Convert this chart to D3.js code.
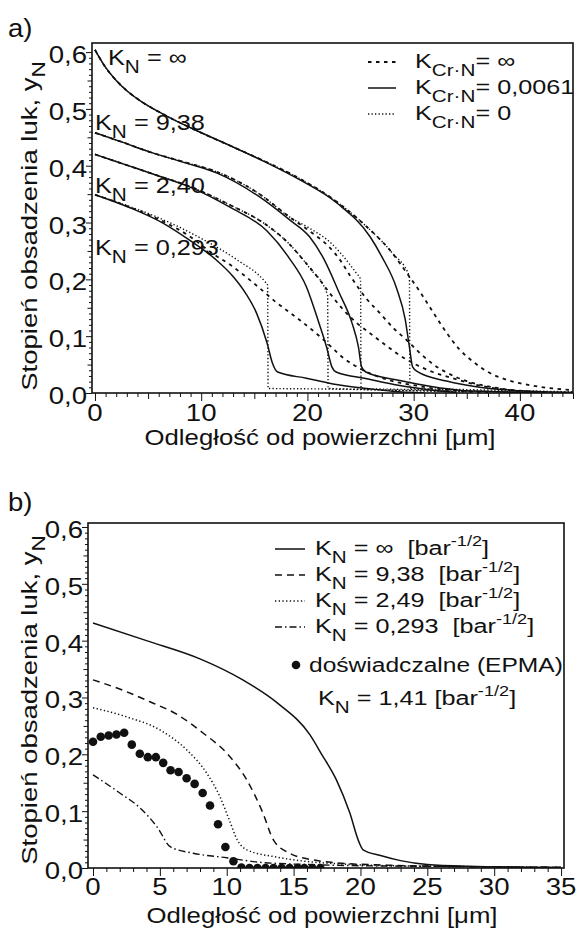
<!DOCTYPE html>
<html><head><meta charset="utf-8">
<script src="https://cdn.jsdelivr.net/npm/d3@7"></script>
<style>
body{margin:0;background:#fff}
text{font-family:"Liberation Sans",Arial,sans-serif;fill:#111;white-space:pre}
</style></head>
<body><svg id="c" width="579" height="933"></svg>
<script>
// ---------- DATA: panel a ----------
const aKnLabels = ["∞", "9,38", "2,40", "0,293"];
const aLegendLabels = ["∞", "0,0061", "0"];
const aXTickLabels = ["0", "10", "20", "30", "40"];
const yTickLabels = ["0,0", "0,1", "0,2", "0,3", "0,4", "0,5", "0,6"];
const bXTickLabels = ["0", "5", "10", "15", "20", "25", "30", "35"];

const aSolidInf = [[0,0.604],[1,0.573],[2,0.550],[3,0.532],[4.2,0.515],[6.8,0.487],[9.2,0.465],[13.0,0.433],[16.2,0.405],[19.3,0.375],[22.8,0.334],[25.9,0.275],[27.0,0.240],[28.4,0.184],[29.2,0.130],[29.6,0.081],[29.9,0.046],[30.4,0.037],[33.1,0.021],[36.2,0.010],[40,0.004],[45,0.001]];
const aDashInf = [[0,0.604],[1,0.573],[2,0.550],[3,0.532],[4.2,0.515],[6.8,0.487],[9.2,0.465],[13.0,0.433],[16.2,0.406],[19.3,0.377],[22.8,0.336],[25.2,0.299],[28.0,0.246],[29.4,0.21],[30.6,0.178],[31.8,0.143],[33.1,0.106],[34.3,0.077],[35.6,0.055],[36.9,0.038],[38.8,0.023],[40.9,0.014],[43.1,0.008],[45,0.005]];
const aDotInf = [[0,0.604],[1,0.573],[2,0.550],[3,0.532],[4.2,0.515],[6.8,0.487],[9.2,0.465],[13.0,0.433],[16.2,0.406],[19.3,0.377],[22.8,0.336],[25.2,0.299],[28.0,0.246],[29.6,0.205],[29.65,0.008],[35,0.006],[40,0.004],[45,0.002]];

const aSolid938 = [[0,0.458],[2.5,0.442],[5.2,0.424],[8.5,0.405],[11.5,0.387],[15.5,0.345],[18.3,0.305],[20.2,0.275],[21.6,0.234],[23.0,0.176],[24.2,0.123],[24.8,0.081],[25.1,0.046],[25.5,0.037],[28.7,0.022],[31.8,0.011],[34.3,0.005],[38,0.002],[42,0]];
const aDash938 = [[0,0.458],[2.5,0.442],[5.2,0.424],[8.5,0.406],[11.5,0.389],[15.5,0.35],[18.3,0.31],[20.2,0.285],[22.1,0.256],[23.0,0.236],[24.0,0.207],[25.6,0.165],[26.8,0.141],[28.0,0.116],[29.4,0.092],[30.6,0.07],[31.8,0.051],[33.1,0.036],[35,0.021],[37.5,0.01],[40,0.004],[43,0.001]];
const aDot938 = [[0,0.458],[2.5,0.442],[5.2,0.424],[8.5,0.406],[11.5,0.389],[15.5,0.35],[18.3,0.31],[20.2,0.29],[22.1,0.266],[24.0,0.226],[24.6,0.211],[25.0,0.2],[25.05,0.008],[30,0.006],[35,0.004],[40,0.002]];

const aSolid240 = [[0,0.420],[3,0.401],[6,0.382],[9,0.362],[12.7,0.327],[16.2,0.285],[18.3,0.237],[19.9,0.187],[21.0,0.128],[21.8,0.081],[22.3,0.046],[22.7,0.037],[25.6,0.025],[28.7,0.013],[31.8,0.005],[34,0.001]];
const aDash240 = [[0,0.420],[3,0.401],[6,0.382],[9,0.363],[12.7,0.331],[16.2,0.295],[18.3,0.262],[19.3,0.241],[21.0,0.203],[22.3,0.171],[23.3,0.148],[24.6,0.124],[25.9,0.105],[27.1,0.088],[28.4,0.070],[29.9,0.053],[31.8,0.037],[33.7,0.026],[36,0.014],[39,0.005],[42,0.001]];
const aDot240 = [[0,0.420],[3,0.401],[6,0.382],[9,0.363],[12.7,0.331],[16.2,0.295],[18.3,0.262],[20.2,0.22],[21.9,0.172],[21.95,0.008],[26,0.006],[30,0.004],[35,0.002]];

const aSolid0293 = [[0,0.349],[3.3,0.326],[6.4,0.299],[8.9,0.269],[11.3,0.236],[13.0,0.205],[14.2,0.175],[15.2,0.141],[16.2,0.088],[16.7,0.053],[17.2,0.037],[19.9,0.026],[22.4,0.016],[25.6,0.008],[28,0.003],[31,0]];
const aDash0293 = [[0,0.349],[3.3,0.327],[6.4,0.302],[8.9,0.276],[11.1,0.245],[12.7,0.226],[14.9,0.194],[17.1,0.159],[19.3,0.128],[21.2,0.099],[22.3,0.08],[23.3,0.063],[24.3,0.05],[25.6,0.037],[26.8,0.028],[28.4,0.019],[29.9,0.014],[31.5,0.009],[34,0.004],[37,0.001]];
const aDot0293 = [[0,0.349],[3.3,0.328],[5.8,0.31],[9.9,0.273],[13.4,0.234],[16.0,0.196],[16.25,0.19],[16.3,0.008],[22,0.007],[28,0.005],[35,0.003],[45,0.001]];

// ---------- DATA: panel b ----------
const bLegendKn = ["∞", "9,38", "2,49", "0,293"];
const bSolid = [[0,0.431],[4,0.400],[8,0.368],[11.2,0.331],[13.8,0.290],[16.2,0.235],[17.1,0.200],[18.2,0.155],[19.2,0.097],[19.9,0.045],[20.2,0.032],[21.5,0.022],[23,0.013],[25,0.006],[28,0.003],[35,0.001]];
const bDash = [[0,0.331],[2.2,0.313],[4.3,0.292],[6.3,0.270],[8.2,0.238],[10.0,0.202],[11.5,0.155],[12.7,0.097],[13.5,0.049],[14.7,0.026],[16.5,0.014],[18.2,0.009],[22,0.005],[26,0.003],[30,0.002],[35,0.001]];
const bDot = [[0,0.282],[2.5,0.266],[5.0,0.243],[7.0,0.208],[8.5,0.167],[9.5,0.125],[10.2,0.084],[10.8,0.049],[11.5,0.032],[13.8,0.019],[16.2,0.011],[18.7,0.007],[22,0.004],[26,0.003],[30,0.002],[35,0.001]];
const bDashDot = [[0,0.164],[2.0,0.132],[3.5,0.106],[4.8,0.072],[5.8,0.037],[7.5,0.026],[10.0,0.018],[12.5,0.010],[15,0.007],[20,0.004],[25,0.003],[30,0.002],[35,0.001]];
const epmaX = [0,0.58,1.17,1.75,2.33,2.9,3.5,4.1,4.7,5.25,5.8,6.4,7.0,7.6,8.2,8.75,9.35,9.9,10.5,11.1,11.7,12.3,12.9,13.5,14.1,14.7,15.3,15.8,16.4,17.0];
const epmaY = [0.222,0.231,0.233,0.235,0.238,0.217,0.201,0.195,0.195,0.185,0.172,0.169,0.158,0.148,0.132,0.110,0.077,0.037,0.012,0.001,0,0,0,0,0,0,0,0,0,0];

// ---------- rendering ----------
const SX = 1.2;
const svg = d3.select("#c");
svg.append("rect").attr("width",579).attr("height",933).attr("fill","#fff");

function rich(g, x, y, parts, o = {}) {
  const fs = o.fs || 21;
  const t = g.append("text")
    .attr("transform", `translate(${x},${y})${o.rot ? ` rotate(${o.rot})` : ""} scale(${o.sx || SX},1)`)
    .attr("font-size", fs).attr("text-anchor", o.anchor || "start");
  let cur = 0;
  parts.forEach(p => {
    const [txt, kind] = Array.isArray(p) ? p : [p, null];
    const off = kind === "sub" ? fs * 0.36 : kind === "sup" ? -fs * 0.42 : 0;
    const ts = t.append("tspan").text(txt);
    if (off - cur !== 0) ts.attr("dy", off - cur);
    if (kind) ts.attr("font-size", fs * (kind === "sub" ? 0.82 : 0.72));
    cur = off;
  });
  return t;
}

const styles = {
  solid: {dash: null, w: 1.5},
  dashA: {dash: "3.5,4.5", w: 1.8},
  dotA: {dash: "1.3,2.2", w: 1.4},
  dashB: {dash: "7,5", w: 1.5},
  dotB: {dash: "1.3,2.4", w: 1.5},
  dashdotB: {dash: "7,3,1.5,3", w: 1.4}
};

function panel(cfg) {
  const g = svg.append("g");
  const {x, y, box} = cfg;
  const clipId = "clip" + cfg.id;
  svg.append("clipPath").attr("id", clipId).append("rect")
    .attr("x", box.l).attr("y", box.t).attr("width", box.r - box.l).attr("height", box.b - box.t);
  const plot = g.append("g").attr("clip-path", `url(#${clipId})`);
  const line = d3.line().x(d => x(d[0])).y(d => y(d[1])).curve(d3.curveMonotoneX);
  cfg.series.forEach(s => {
    const st = styles[s.style];
    plot.append("path").attr("d", line(s.data)).attr("fill", "none").attr("stroke", "#111")
      .attr("stroke-width", st.w).attr("stroke-dasharray", st.dash).attr("stroke-linejoin","round");
  });
  if (cfg.points) {
    plot.selectAll("circle.p").data(cfg.points).join("circle").attr("class","p")
      .attr("cx", d => x(d[0])).attr("cy", d => y(d[1])).attr("r", 4.3).attr("fill", "#111");
  }
  g.append("rect").attr("x", box.l).attr("y", box.t).attr("width", box.r - box.l).attr("height", box.b - box.t)
    .attr("fill", "none").attr("stroke", "#111").attr("stroke-width", 1.6);
  const yMinor = d3.range(0, 61).map(i => i / 100);
  const yAx = g.append("g").attr("transform", `translate(${box.l},0)`);
  [[yMinor.filter(v => Math.round(v*100) % 5 !== 0), 3],
   [yMinor.filter(v => Math.round(v*100) % 5 === 0 && Math.round(v*100) % 10 !== 0), 4.5],
   [yMinor.filter(v => Math.round(v*100) % 10 === 0), 6]].forEach(([vals, len]) => {
    yAx.append("g").call(d3.axisLeft(y).tickValues(vals).tickSize(len).tickFormat(""))
      .call(s => { s.select(".domain").remove(); s.selectAll("line").attr("stroke","#111").attr("stroke-width",1); });
  });
  const xAx = g.append("g").attr("transform", `translate(0,${box.b})`);
  [[cfg.xMinor, 4], [cfg.xMid, 6], [cfg.xMajor, 8]].forEach(([vals, len]) => {
    xAx.append("g").call(d3.axisBottom(x).tickValues(vals).tickSize(len).tickFormat(""))
      .call(s => { s.select(".domain").remove(); s.selectAll("line").attr("stroke","#111").attr("stroke-width",1); });
  });
  yTickLabels.forEach((lab, i) => rich(g, box.l - 5, y(i / 10) + 11, [lab], {anchor: "end", fs: 23}));
  cfg.xLabels.forEach((lab, i) => rich(g, x(cfg.xMajor[i]), cfg.xLabelY, [lab], {anchor: "middle", fs: 23}));
  rich(g, cfg.titleX, cfg.xTitleY, ["Odległość od powierzchni [μm]"], {anchor: "middle", fs: 22, sx: 1.17});
  rich(g, 37, cfg.yTitleMid, ["Stopień obsadzenia luk, y", ["N", "sub"]], {anchor: "middle", fs: 22, sx: 1.25, rot: -90});
  rich(g, 8, cfg.panelLabelY, [cfg.panelLabel], {fs: 25, sx: 1.1});
  return g;
}

// ----- panel a -----
const boxA = {l: 92, r: 573, t: 43, b: 393};
const xA = d3.scaleLinear().domain([-0.28, 45]).range([boxA.l, boxA.r]);
const yA = d3.scaleLinear().domain([0, 0.616]).range([boxA.b, boxA.t]);
const gA = panel({
  id: "A", x: xA, y: yA, box: boxA,
  series: [
    {data: aDashInf, style: "dashA"}, {data: aDotInf, style: "dotA"}, {data: aSolidInf, style: "solid"},
    {data: aDash938, style: "dashA"}, {data: aDot938, style: "dotA"}, {data: aSolid938, style: "solid"},
    {data: aDash240, style: "dashA"}, {data: aDot240, style: "dotA"}, {data: aSolid240, style: "solid"},
    {data: aDash0293, style: "dashA"}, {data: aDot0293, style: "dotA"}, {data: aSolid0293, style: "solid"}
  ],
  xMinor: d3.range(0, 46).filter(v => v % 5 !== 0),
  xMid: [5, 15, 25, 35, 45],
  xMajor: [0, 10, 20, 30, 40],
  xLabels: aXTickLabels, xLabelY: 421,
  titleX: 320, xTitleY: 445, yTitleMid: 226,
  panelLabel: "a)", panelLabelY: 37
});
const annA = [[108, 65], [95, 130], [95, 193], [95, 255]];
aKnLabels.forEach((k, i) => rich(gA, annA[i][0], annA[i][1], ["K", ["N", "sub"], " = " + k], {fs: 22, sx: 1.15}));
const legAStyles = ["dashA", "solid", "dotA"];
const legAY = [68, 94, 120];
aLegendLabels.forEach((k, i) => {
  const st = styles[legAStyles[i]];
  gA.append("line").attr("x1", 368).attr("x2", 396).attr("y1", legAY[i] - 6).attr("y2", legAY[i] - 6)
    .attr("stroke", "#111").attr("stroke-width", st.w).attr("stroke-dasharray", st.dash);
  rich(gA, 415, legAY[i], ["K", ["Cr·N", "sub"], "= " + k]);
});

// ----- panel b -----
const boxB = {l: 88, r: 564, t: 523, b: 868};
const xB = d3.scaleLinear().domain([-0.374, 35.22]).range([boxB.l, boxB.r]);
const yB = d3.scaleLinear().domain([0, 0.607]).range([boxB.b, boxB.t]);
const gB = panel({
  id: "B", x: xB, y: yB, box: boxB,
  series: [
    {data: bSolid, style: "solid"}, {data: bDash, style: "dashB"},
    {data: bDot, style: "dotB"}, {data: bDashDot, style: "dashdotB"}
  ],
  points: epmaX.map((v, i) => [v, epmaY[i]]),
  xMinor: d3.range(0, 36).filter(v => v % 5 !== 0),
  xMid: [],
  xMajor: [0, 5, 10, 15, 20, 25, 30, 35],
  xLabels: bXTickLabels, xLabelY: 895,
  titleX: 322, xTitleY: 923, yTitleMid: 700,
  panelLabel: "b)", panelLabelY: 511
});
const legBStyles = ["solid", "dashB", "dotB", "dashdotB"];
const legBY = [555, 581, 607, 633];
bLegendKn.forEach((k, i) => {
  const st = styles[legBStyles[i]];
  gB.append("line").attr("x1", 275).attr("x2", 305).attr("y1", legBY[i] - 6).attr("y2", legBY[i] - 6)
    .attr("stroke", "#111").attr("stroke-width", st.w).attr("stroke-dasharray", st.dash);
  rich(gB, 315, legBY[i], ["K", ["N", "sub"], " = " + k + "  [bar", ["-1/2", "sup"], "]"]);
});
gB.append("circle").attr("cx", 296).attr("cy", 665).attr("r", 4.3).attr("fill", "#111");
rich(gB, 309, 672, ["doświadczalne (EPMA)"], {sx: 1.17});
rich(gB, 318, 705, ["K", ["N", "sub"], " = 1,41 [bar", ["-1/2", "sup"], "]"]);
</script>
</body></html>
